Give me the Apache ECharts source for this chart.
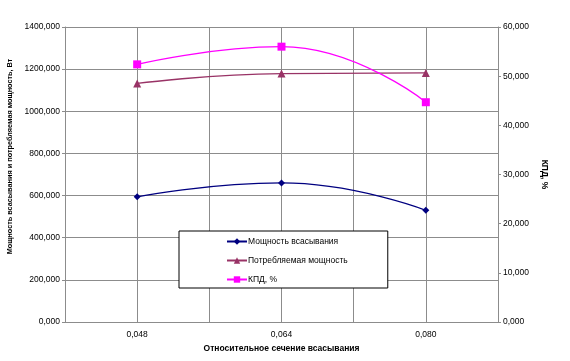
<!DOCTYPE html>
<html><head><meta charset="utf-8">
<script src="https://cdn.jsdelivr.net/npm/echarts@6/dist/echarts.min.js"></script>
<style>html,body{margin:0;padding:0;background:#fff}#c{width:570px;height:361px}</style>
</head><body><div id="c"></div>
<script>
const xValues = [0.048, 0.064, 0.080];
const suctionPower = [594, 660, 530];
const consumedPower = [1132, 1179, 1182];
const efficiency = [52.4, 56.0, 44.7];
const seriesNames = ['Мощность всасывания', 'Потребляемая мощность', 'КПД, %'];
const xLabelTicks = [48, 64, 80];

const font = 'Liberation Sans, Arial, sans-serif';
const fs = 8.5;
const fmt = v => v.toFixed(3).replace('.', ',');
const gridColor = '#8c8c8c';

const chart = echarts.init(document.getElementById('c'), null, {renderer: 'canvas'});
chart.setOption({
  animation: false,
  textStyle: {fontFamily: font},
  grid: {left: 65, right: 72, top: 27, bottom: 39, containLabel: false, outerBoundsMode: 'none'},
  legend: {
    orient: 'vertical', left: 179, top: 231,
    backgroundColor: '#fff', borderColor: '#000', borderWidth: 1,
    padding: [6, 40, 4, 47], itemGap: 10, itemWidth: 20, itemHeight: 8,
    textStyle: {fontFamily: font, fontSize: fs, color: '#000', padding: [0, 0, 0, -4]},
    data: seriesNames
  },
  xAxis: {
    type: 'value', min: 0.040, max: 0.088, interval: 0.008,
    name: 'Относительное сечение всасывания', nameLocation: 'middle', nameGap: 22,
    nameTextStyle: {fontFamily: font, fontSize: fs, fontWeight: 'bold', color: '#000'},
    axisLine: {lineStyle: {color: gridColor}},
    axisTick: {show: false},
    axisLabel: {fontFamily: font, fontSize: fs, color: '#000', margin: 8,
      formatter: v => xLabelTicks.includes(Math.round(v * 1000)) ? fmt(v) : ''},
    splitLine: {show: true, lineStyle: {color: gridColor, width: 1}}
  },
  yAxis: [{
    type: 'value', min: 0, max: 1400, interval: 200, position: 'left',
    name: 'Мощность всасывания и потребляемая мощность, Вт', nameLocation: 'middle', nameGap: 44, nameRotate: 90,
    nameTextStyle: {fontFamily: font, fontSize: 7.3, fontWeight: 'bold', color: '#000', padding: [0, 0, 0, 36]},
    axisLine: {show: true, lineStyle: {color: gridColor}},
    axisTick: {show: true, length: 3, lineStyle: {color: gridColor}},
    axisLabel: {fontFamily: font, fontSize: fs, color: '#000', margin: 5, formatter: fmt},
    splitLine: {show: true, lineStyle: {color: gridColor, width: 1}}
  }, {
    type: 'value', min: 0, max: 60, interval: 10, position: 'right',
    name: 'КПД, %', nameLocation: 'middle', nameGap: 32, nameRotate: -90,
    nameTextStyle: {fontFamily: font, fontSize: fs, fontWeight: 'bold', color: '#000'},
    axisLine: {show: true, lineStyle: {color: gridColor}},
    axisTick: {show: true, length: 3, lineStyle: {color: gridColor}},
    axisLabel: {fontFamily: font, fontSize: fs, color: '#000', margin: 5, formatter: fmt},
    splitLine: {show: false}
  }],
  series: [{
    name: seriesNames[0], type: 'line', yAxisIndex: 0, smooth: 0.5,
    data: xValues.map((x, i) => [x, suctionPower[i]]),
    symbol: 'diamond', symbolSize: 7,
    itemStyle: {color: '#000080'}, lineStyle: {color: '#000080', width: 1.3}
  }, {
    name: seriesNames[1], type: 'line', yAxisIndex: 0, smooth: 0.5,
    data: xValues.map((x, i) => [x, consumedPower[i]]),
    symbol: 'triangle', symbolSize: 8,
    itemStyle: {color: '#993366'}, lineStyle: {color: '#993366', width: 1.3}
  }, {
    name: seriesNames[2], type: 'line', yAxisIndex: 1, smooth: 0.5,
    data: xValues.map((x, i) => [x, efficiency[i]]),
    symbol: 'rect', symbolSize: 8,
    itemStyle: {color: '#ff00ff'}, lineStyle: {color: '#ff00ff', width: 1.3}
  }]
});
</script></body></html>
